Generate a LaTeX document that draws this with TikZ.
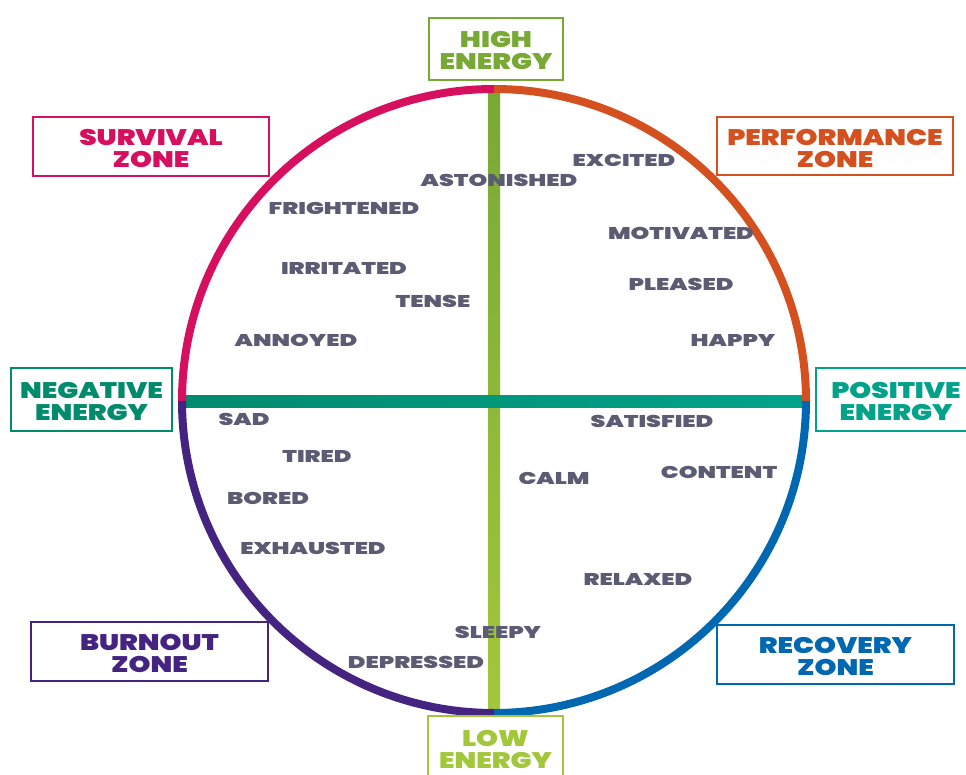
\documentclass[tikz,border=0pt]{standalone}
\usepackage{fontspec}
\setmainfont{Poppins}
\newfontfamily\heavyword{Poppins Black}[FakeStretch=1.4]
\newfontfamily\heavybox{Poppins Black}[FakeStretch=1.24]
\usetikzlibrary{shadings}
\definecolor{cmag}{HTML}{D6105E}
\definecolor{corange}{HTML}{D5501F}
\definecolor{cpurple}{HTML}{452381}
\definecolor{cblue}{HTML}{0067B1}
\definecolor{chigh}{HTML}{78A935}
\definecolor{clow}{HTML}{A3C73A}
\definecolor{cnegt}{HTML}{008B6D}
\definecolor{cpost}{HTML}{00A38A}
\definecolor{cword}{HTML}{5B5B73}
\tikzset{
  zonebox/.style={draw, line width=2.6pt, fill=white, inner sep=0pt},
  zonetext/.style={align=center, inner sep=0pt, yshift=-2pt,
    font=\heavybox\fontsize{22.5}{22}\selectfont},
  word/.style={text=cword, inner sep=0pt, font=\heavyword\fontsize{17}{18}\selectfont},
  arcseg/.style={line width=8pt}
}
\begin{document}
\begin{tikzpicture}[x=1pt,y=-1pt]
\useasboundingbox (0,0) rectangle (966,775);
\fill[white] (0,0) rectangle (966,775);
\coordinate (c) at (494,401);
% bars
\shade[top color=chigh, bottom color=clow] (488,89) rectangle (500,713);
\shade[left color=cnegt, right color=cpost] (182,395) rectangle (806,407);
% arcs (y axis points down, so angles run clockwise on screen)
\draw[arcseg, cmag] (182,401) arc[start angle=180, end angle=270, radius=312];
\draw[arcseg, corange] (494,89) arc[start angle=270, end angle=360, radius=312];
\draw[arcseg, cblue] (806,401) arc[start angle=0, end angle=90, radius=312];
\draw[arcseg, cpurple] (494,713) arc[start angle=90, end angle=180, radius=312];
% boxes
\node[zonebox, draw=chigh, minimum width=134pt, minimum height=62pt] (high) at (496,49) {};
\node[zonetext, text=chigh] (hightext) at (high.center) {HIGH\\ENERGY};
\node[zonebox, draw=clow, minimum width=135pt, minimum height=62pt] (low) at (495.5,747) {};
\node[zonetext, text=clow] (lowtext) at (low.center) {LOW\\ENERGY};
\node[zonebox, draw=cmag, minimum width=236pt, minimum height=59pt] (survival) at (151,146.5) {};
\node[zonetext, text=cmag] (survivaltext) at (survival.center) {SURVIVAL\\ZONE};
\node[zonebox, draw=corange, minimum width=236pt, minimum height=58pt] (performance) at (835,146) {};
\node[zonetext, text=corange] (performancetext) at (performance.center) {PERFORMANCE\\ZONE};
\node[zonebox, draw=cnegt, minimum width=161pt, minimum height=63pt] (negative) at (91.5,399.5) {};
\node[zonetext, text=cnegt] (negativetext) at (negative.center) {NEGATIVE\\ENERGY};
\node[zonebox, draw=cpost, minimum width=160pt, minimum height=63pt] (positive) at (896,399.5) {};
\node[zonetext, text=cpost] (positivetext) at (positive.center) {POSITIVE\\ENERGY};
\node[zonebox, draw=cpurple, minimum width=237pt, minimum height=59pt] (burnout) at (149.5,651.5) {};
\node[zonetext, text=cpurple] (burnouttext) at (burnout.center) {BURNOUT\\ZONE};
\node[zonebox, draw=cblue, minimum width=237pt, minimum height=59pt] (recovery) at (835.5,654.5) {};
\node[zonetext, text=cblue] (recoverytext) at (recovery.center) {RECOVERY\\ZONE};
% words
\node[word] (astonished) at (499,180) {ASTONISHED};
\node[word] (excited) at (624,160) {EXCITED};
\node[word] (frightened) at (344,208) {FRIGHTENED};
\node[word] (motivated) at (681,233) {MOTIVATED};
\node[word] (irritated) at (344,268) {IRRITATED};
\node[word] (pleased) at (681,284) {PLEASED};
\node[word] (tense) at (433,301) {TENSE};
\node[word] (annoyed) at (296,340) {ANNOYED};
\node[word] (happy) at (733,340) {HAPPY};
\node[word] (sad) at (244,419) {SAD};
\node[word] (satisfied) at (652,421) {SATISFIED};
\node[word] (tired) at (317,456) {TIRED};
\node[word] (content) at (719,472) {CONTENT};
\node[word] (calm) at (554,478) {CALM};
\node[word] (bored) at (268,498) {BORED};
\node[word] (exhausted) at (313,548) {EXHAUSTED};
\node[word] (relaxed) at (638,579) {RELAXED};
\node[word] (sleepy) at (498,632) {SLEEPY};
\node[word] (depressed) at (416,662) {DEPRESSED};
\end{tikzpicture}
\end{document}
